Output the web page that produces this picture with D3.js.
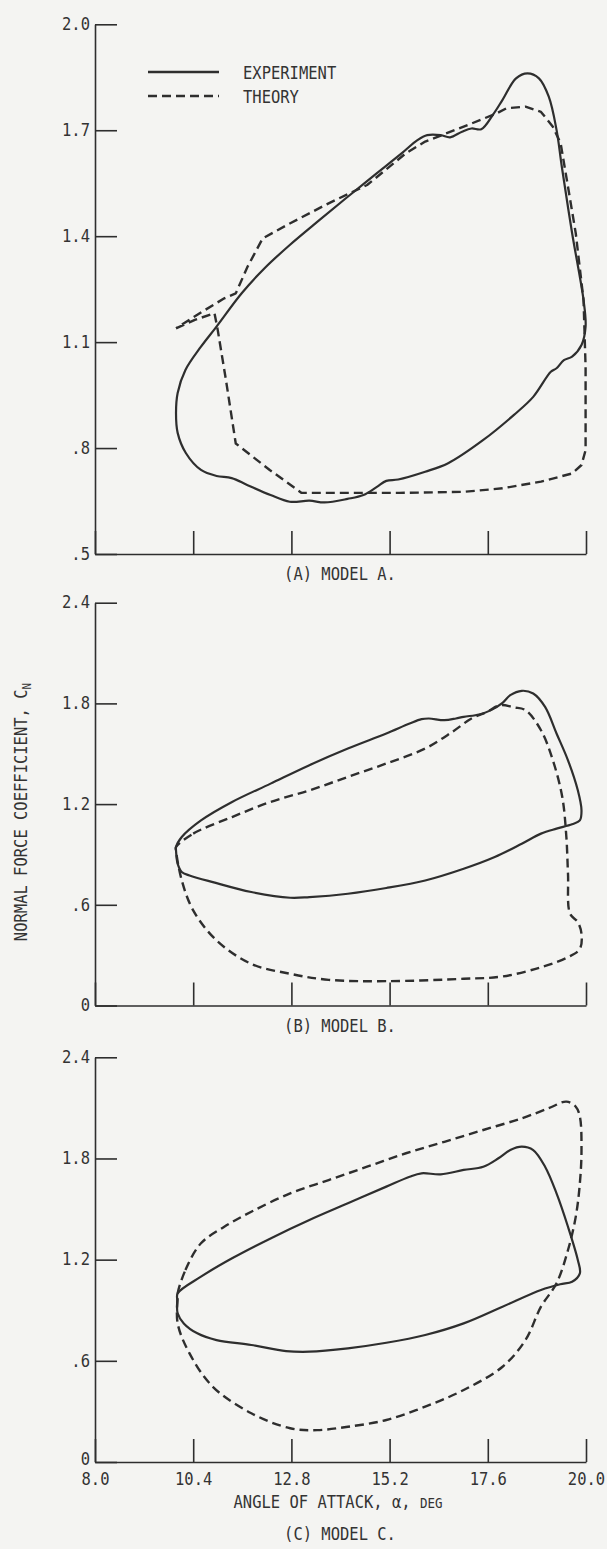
<!DOCTYPE html>
<html>
<head>
<meta charset="utf-8">
<script src="https://cdn.jsdelivr.net/npm/d3@7"></script>
<style>
  html, body { margin: 0; padding: 0; background: #f4f4f2; }
  svg { display: block; }
  text { font-family: "DejaVu Sans Mono", "Liberation Mono", monospace; fill: #333; }
</style>
</head>
<body>
<svg id="chart" width="607" height="1549"></svg>
<script>
// Angle of attack axis (deg)
const alphaTicks = [8.0, 10.4, 12.8, 15.2, 17.6, 20.0];
const alphaLabels = ["8.0", "10.4", "12.8", "15.2", "17.6", "20.0"];

// Normal force coefficient ticks
const cnTicksA = [0.5, 0.8, 1.1, 1.4, 1.7, 2.0];
const cnLabelsA = [".5", ".8", "1.1", "1.4", "1.7", "2.0"];
const cnTicksBC = [0, 0.6, 1.2, 1.8, 2.4];
const cnLabelsBC = ["0", ".6", "1.2", "1.8", "2.4"];

const panelTitles = ["(A) MODEL A.", "(B) MODEL B.", "(C) MODEL C."];
const legendNames = ["EXPERIMENT", "THEORY"];

// Measured hysteresis loop, model A  [alpha, CN]
const expA = [
  [9.98,0.899],[10.02,0.843],[10.22,0.786],[10.59,0.738],[10.97,0.721],[11.34,0.715],
  [11.73,0.695],[12.29,0.667],[12.76,0.648],[13.24,0.651],[13.61,0.646],[14.17,0.656],
  [14.56,0.667],[14.89,0.690],[15.12,0.707],[15.41,0.711],[16.07,0.733],[16.63,0.757],
  [17.49,0.823],[18.24,0.894],[18.71,0.945],[19.14,1.016],[19.28,1.026],[19.46,1.049],
  [19.66,1.059],[19.89,1.092],[19.99,1.144],[19.94,1.219],[19.66,1.409],[19.41,1.596],
  [19.28,1.701],[19.09,1.795],[18.85,1.847],[18.57,1.861],[18.29,1.847],[17.96,1.786],
  [17.72,1.743],[17.44,1.703],[17.20,1.705],[16.97,1.696],[16.68,1.680],[16.45,1.686],
  [16.12,1.686],[15.88,1.672],[15.50,1.635],[14.83,1.573],[14.17,1.511],[13.49,1.446],
  [12.76,1.375],[12.15,1.310],[11.59,1.239],[10.97,1.144],[10.59,1.087],[10.21,1.021],
  [10.02,0.956]
];

// Predicted loop, model A
const thA = [
  [9.98,1.139],[10.44,1.163],[10.92,1.182],[11.00,1.134],[11.20,0.993],[11.44,0.813],
  [12.27,0.738],[13.05,0.673],[13.71,0.673],[15.44,0.673],[17.01,0.676],[17.96,0.686],
  [18.90,0.705],[19.66,0.728],[19.89,0.752],[19.99,0.794],[19.99,1.030],[19.94,1.219],
  [19.75,1.408],[19.56,1.540],[19.38,1.663],[19.19,1.710],[18.90,1.752],[18.52,1.767],
  [18.05,1.762],[17.82,1.748],[17.01,1.710],[16.07,1.668],[15.60,1.635],[14.65,1.545],
  [13.71,1.493],[12.76,1.436],[12.10,1.394],[11.73,1.314],[11.44,1.238],[11.16,1.224],
  [10.56,1.182],[9.98,1.139]
];

// Measured loop, model B
const expB = [
  [9.98,0.924],[10.02,0.845],[10.12,0.795],[10.31,0.775],[10.88,0.735],[11.82,0.676],
  [12.77,0.642],[13.24,0.646],[14.18,0.666],[15.12,0.700],[16.07,0.745],[17.01,0.815],
  [17.77,0.885],[18.43,0.964],[18.90,1.024],[19.28,1.054],[19.66,1.080],[19.85,1.103],
  [19.89,1.163],[19.80,1.282],[19.56,1.461],[19.28,1.621],[19.00,1.779],[18.71,1.859],
  [18.43,1.875],[18.15,1.849],[17.96,1.803],[17.68,1.760],[17.39,1.734],[17.01,1.720],
  [16.82,1.710],[16.54,1.700],[16.16,1.710],[15.98,1.706],[15.69,1.680],[15.12,1.621],
  [14.18,1.531],[13.24,1.432],[12.29,1.322],[11.35,1.213],[10.59,1.103],[10.12,1.004],
  [9.98,0.944]
];

// Predicted loop, model B
const thB = [
  [9.98,0.944],[10.40,1.024],[11.35,1.123],[12.29,1.213],[13.24,1.282],[14.18,1.362],
  [15.12,1.442],[16.07,1.531],[16.73,1.630],[17.20,1.710],[17.58,1.750],[17.91,1.790],
  [18.24,1.776],[18.52,1.760],[18.90,1.640],[19.19,1.461],[19.42,1.242],[19.52,1.004],
  [19.56,0.785],[19.61,0.547],[19.80,0.497],[19.89,0.427],[19.85,0.338],[19.56,0.288],
  [18.90,0.228],[17.96,0.173],[17.01,0.159],[15.12,0.145],[13.71,0.153],[12.77,0.189],
  [11.82,0.248],[10.97,0.388],[10.40,0.567],[10.12,0.746],[9.98,0.924]
];

// Measured loop, model C
const expC = [
  [10.01,0.960],[10.02,0.882],[10.17,0.822],[10.50,0.763],[10.97,0.723],[11.82,0.694],
  [12.67,0.658],[13.24,0.654],[14.18,0.674],[15.12,0.707],[16.07,0.753],[17.01,0.822],
  [17.96,0.921],[18.90,1.020],[19.37,1.054],[19.66,1.069],[19.85,1.119],[19.80,1.198],
  [19.56,1.395],[19.28,1.593],[19.00,1.751],[18.71,1.850],[18.43,1.870],[18.15,1.850],
  [17.86,1.801],[17.49,1.751],[17.01,1.732],[16.45,1.706],[15.98,1.712],[15.69,1.692],
  [15.12,1.633],[14.18,1.534],[13.24,1.435],[12.29,1.326],[11.35,1.208],[10.59,1.099],
  [10.02,1.000]
];

// Predicted loop, model C
const thC = [
  [10.02,1.000],[10.21,1.138],[10.59,1.297],[11.16,1.395],[11.82,1.484],[12.77,1.593],
  [13.71,1.672],[14.65,1.751],[15.60,1.831],[16.54,1.899],[17.49,1.969],[18.43,2.038],
  [19.09,2.098],[19.52,2.137],[19.75,2.107],[19.85,2.048],[19.89,1.850],[19.85,1.653],
  [19.75,1.455],[19.56,1.257],[19.28,1.060],[18.90,0.921],[18.52,0.723],[17.96,0.565],
  [17.01,0.427],[16.07,0.328],[15.12,0.249],[14.18,0.209],[13.43,0.189],[12.77,0.200],
  [11.82,0.289],[10.88,0.446],[10.31,0.644],[10.02,0.822],[10.02,0.980]
];

const INK = "#2e2e2e";
const FONT_SIZE = "15.5px";
const TEXT_STRETCH = "scale(1,1.12)";
const svg = d3.select("#chart");

const x = d3.scaleLinear().domain([8, 20]).range([95, 586]);

const panels = [
  { y: d3.scaleLinear().domain([0.5, 2.0]).range([554, 24.3]), ticks: cnTicksA, labels: cnLabelsA,
    exp: expA, th: thA, thCurve: d3.curveLinear, title: panelTitles[0], titleY: 580, xLabels: false },
  { y: d3.scaleLinear().domain([0, 2.4]).range([1005.5, 602.7]), ticks: cnTicksBC, labels: cnLabelsBC,
    exp: expB, th: thB, thCurve: d3.curveCatmullRomClosed.alpha(0.5), title: panelTitles[1], titleY: 1032, xLabels: false },
  { y: d3.scaleLinear().domain([0, 2.4]).range([1462, 1057.3]), ticks: cnTicksBC, labels: cnLabelsBC,
    exp: expC, th: thC, thCurve: d3.curveCatmullRomClosed.alpha(0.5), title: panelTitles[2], titleY: 1540, xLabels: true }
];

// draws a stretched text label with its baseline at (tx, ty)
function label(parent, tx, ty, anchor) {
  return parent.append("text")
    .attr("transform", `translate(${tx},${ty}) ${TEXT_STRETCH}`)
    .attr("text-anchor", anchor || "start")
    .style("font-size", FONT_SIZE);
}

panels.forEach(p => {
  const g = svg.append("g");
  const y0 = p.y.range()[0];

  // left axis, ticks pointing into the plot
  const yAxis = d3.axisLeft(p.y)
    .tickValues(p.ticks)
    .tickFormat((d, i) => p.labels[i])
    .tickSizeInner(-22)
    .tickSizeOuter(0)
    .tickPadding(5);
  const ya = g.append("g").attr("transform", `translate(${x(8)},0)`).call(yAxis);

  // bottom axis, ticks pointing up
  const xAxis = d3.axisBottom(x)
    .tickValues(alphaTicks)
    .tickFormat((d, i) => p.xLabels ? alphaLabels[i] : "")
    .tickSizeInner(-23)
    .tickSizeOuter(0)
    .tickPadding(6);
  const xa = g.append("g").attr("transform", `translate(0,${y0})`).call(xAxis);

  [ya, xa].forEach(a => {
    a.selectAll("path.domain").attr("stroke", INK).attr("stroke-width", 1.6);
    a.selectAll(".tick line").attr("stroke", INK).attr("stroke-width", 1.6);
    a.selectAll(".tick text")
      .attr("fill", "#333")
      .attr("transform", TEXT_STRETCH)
      .style("font-family", '"DejaVu Sans Mono", monospace')
      .style("font-size", FONT_SIZE);
  });
  ya.selectAll(".tick text").attr("dy", "0.3em");
  // the bottom label of the lowest panel sits just above the angle labels
  if (p.xLabels) ya.selectAll(".tick text").filter(d => d === 0).attr("dy", "0.12em");
  xa.selectAll(".tick text").attr("y", 0).attr("dy", "1.3em");

  const line = d3.line().x(d => x(d[0])).y(d => p.y(d[1]));

  g.append("path")
    .datum(p.exp)
    .attr("d", line.curve(d3.curveCatmullRomClosed.alpha(0.5)))
    .attr("fill", "none")
    .attr("stroke", INK)
    .attr("stroke-width", 2.2)
    .attr("stroke-linejoin", "round");

  g.append("path")
    .datum(p.th)
    .attr("d", line.curve(p.thCurve))
    .attr("fill", "none")
    .attr("stroke", INK)
    .attr("stroke-width", 2.4)
    .attr("stroke-dasharray", "9,5")
    .attr("stroke-linejoin", "round");

  label(g, 340, p.titleY, "middle").text(p.title);
});

// legend
const legend = svg.append("g");
[[72, null], [96, "9,5"]].forEach((s, i) => {
  legend.append("line")
    .attr("x1", 148).attr("x2", 219).attr("y1", s[0]).attr("y2", s[0])
    .attr("stroke", INK).attr("stroke-width", 2.4)
    .attr("stroke-dasharray", s[1]);
  label(legend, 243, s[0] + 7).text(legendNames[i]);
});

// x axis title
const xt = label(svg, 338, 1508, "middle");
xt.append("tspan").text("ANGLE OF ATTACK, \u03B1, ");
xt.append("tspan").style("font-size", "12.5px").text("DEG");

// y axis title
const yt = svg.append("text")
  .attr("transform", "translate(27,812) rotate(-90) scale(1,1.12)")
  .attr("text-anchor", "middle")
  .style("font-size", FONT_SIZE);
yt.append("tspan").text("NORMAL FORCE COEFFICIENT, C");
yt.append("tspan").attr("dy", 4).style("font-size", "11px").text("N");
</script>
</body>
</html>
